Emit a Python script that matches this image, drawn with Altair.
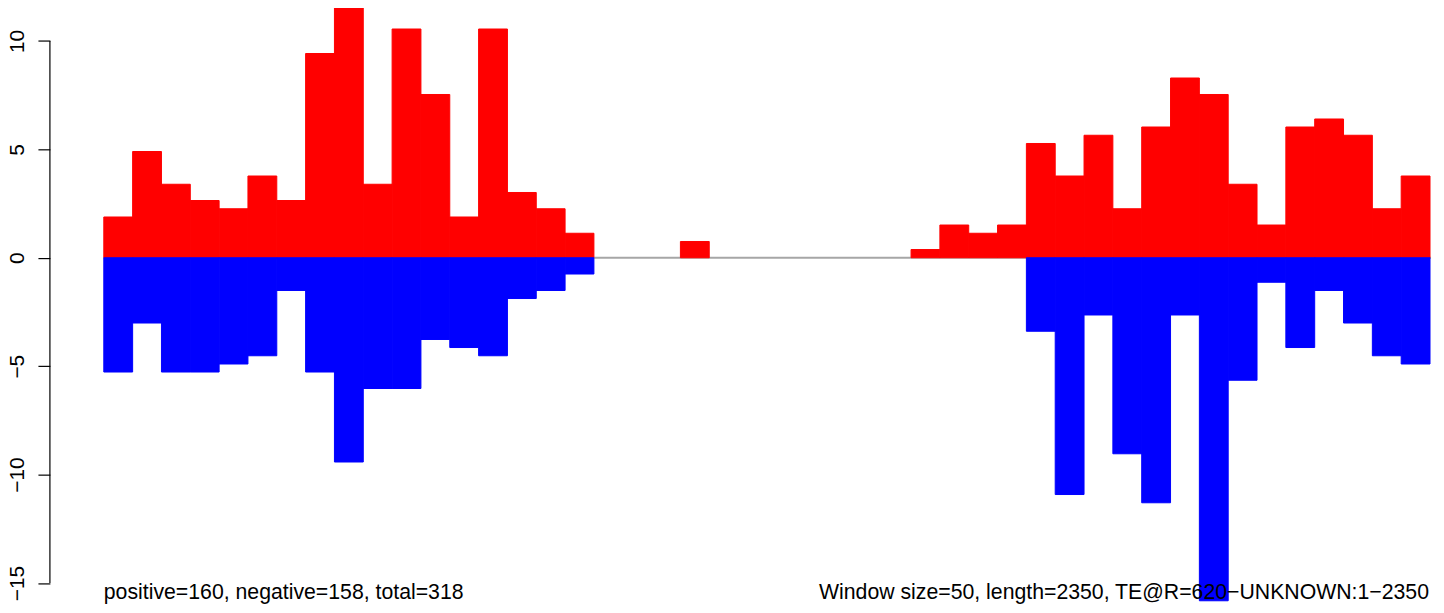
import altair as alt
import pandas as pd

# window starts (bp), window size 50
window_size = 50
starts = list(range(0, 2300, 50))

positive = [1.88, 4.90, 3.39, 2.64, 2.26, 3.77, 2.64, 9.42, 11.68, 3.39, 10.55, 7.53,
            1.88, 10.55, 3.01, 2.26, 1.13,
            0, 0, 0, 0.75, 0, 0, 0, 0, 0, 0, 0,
            0.38, 1.51, 1.13, 1.51, 5.27, 3.77, 5.65, 2.26, 6.03, 8.29, 7.53, 3.39,
            1.51, 6.03, 6.40, 5.65, 2.26, 3.77]

negative = [-5.27, -3.01, -5.27, -5.27, -4.90, -4.52, -1.51, -5.27, -9.42, -6.03, -6.03,
            -3.77, -4.14, -4.52, -1.88, -1.51, -0.75,
            0, 0, 0, 0, 0, 0, 0, 0, 0, 0, 0,
            0, 0, 0, 0, -3.39, -10.92, -2.64, -9.04, -11.30, -2.64, -15.82, -5.65,
            -1.13, -4.14, -1.51, -3.01, -4.52, -4.90]

y_ticks = [-15, -10, -5, 0, 5, 10]
left_text = ["positive=160, negative=158, total=318"]
right_text = ["Window size=50, length=2350, TE@R=620\u2212UNKNOWN:1\u22122350"]

FONT = "Liberation Sans, Arial, Helvetica, sans-serif"
W, H = 1329, 596

df = pd.DataFrame({
    "start": starts,
    "end": [s + window_size for s in starts],
    "pos": positive,
    "neg": negative,
    "zero": [0] * len(starts),
})

xs = alt.Scale(domain=[0, 2300], nice=False, zero=False)
ys = alt.Scale(domain=[-15.94, 11.49], nice=False, zero=False)

base = alt.Chart(df)

zero_line = alt.Chart(pd.DataFrame({"y": [0]})).mark_rule(
    color="#A6A6A6", strokeWidth=2
).encode(
    x=alt.value(0), x2=alt.value(W + 1),
    y=alt.Y("y:Q", scale=ys,
            axis=alt.Axis(values=y_ticks, domain=False, grid=False, tickSize=12,
                          tickColor="black", tickWidth=1.2, offset=54,
                          labelAngle=270, labelAlign="center", labelBaseline="alphabetic",
                          labelPadding=14, labelFontSize=21, labelFont=FONT,
                          labelColor="black", format="d",
                          labelExpr="replace(datum.label, '-', '\u2212')",
                          title=None)),
)

pos_bars = base.mark_bar(color="#FF0000", stroke="#FF0000", strokeWidth=1.0).encode(
    x=alt.X("start:Q", scale=xs, axis=None),
    x2="end:Q",
    y=alt.Y("pos:Q", scale=ys),
    y2="zero:Q",
).transform_filter("datum.pos > 0")

neg_bars = base.mark_bar(color="#0000FF", stroke="#0000FF", strokeWidth=1.0).encode(
    x=alt.X("start:Q", scale=xs, axis=None),
    x2="end:Q",
    y=alt.Y("neg:Q", scale=ys),
    y2="zero:Q",
).transform_filter("datum.neg < 0")

axis_line = alt.Chart(pd.DataFrame({"a": [y_ticks[0]], "b": [y_ticks[-1]]})).mark_rule(
    color="black", strokeWidth=1.2
).encode(
    x=alt.value(-54),
    y=alt.Y("a:Q", scale=ys),
    y2="b:Q",
)

txt_left = alt.Chart(pd.DataFrame({"t": left_text})).mark_text(
    align="left", baseline="alphabetic", fontSize=21.3, font=FONT, color="black"
).encode(x=alt.value(0), y=alt.value(592), text="t:N")

txt_right = alt.Chart(pd.DataFrame({"t": right_text})).mark_text(
    align="right", baseline="alphabetic", fontSize=21.3, font=FONT, color="black"
).encode(x=alt.value(W - 1), y=alt.value(592), text="t:N")

chart = alt.layer(zero_line, pos_bars, neg_bars, axis_line, txt_left, txt_right).properties(
    width=W, height=H,
    autosize=alt.AutoSizeParams(type="none"),
    padding={"left": 96, "top": 0, "right": 6, "bottom": 0},
).configure_view(stroke=None)

chart.save("out.html", embed_options={"renderer": "svg", "actions": False})
